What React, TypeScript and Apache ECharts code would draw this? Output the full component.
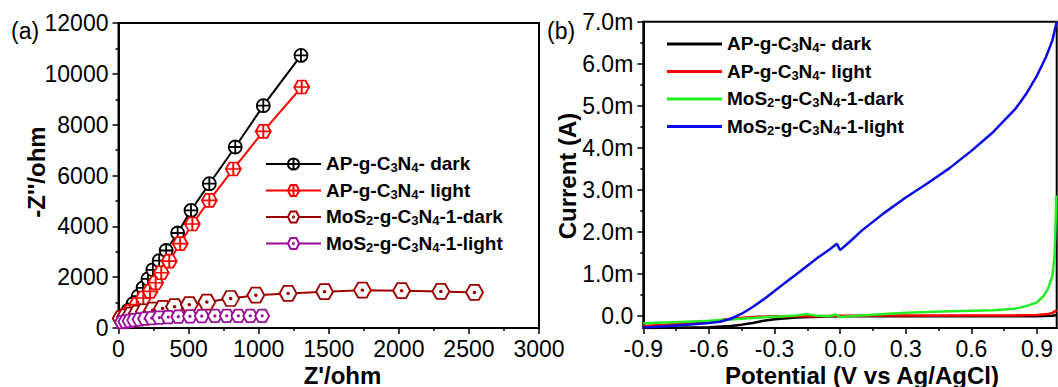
import React, { useEffect, useRef } from 'react';
import * as echarts from 'echarts';

const FONT = "'Liberation Sans', Arial, sans-serif";

// ---------- Panel (a): Nyquist plots, [Z' (ohm), -Z'' (ohm)] ----------
const seriesNames = [
  'AP-g-C3N4- dark',
  'AP-g-C3N4- light',
  'MoS2-g-C3N4-1-dark',
  'MoS2-g-C3N4-1-light',
];

const apDarkEIS = [
  [12, 380], [40, 500], [70, 700], [105, 960], [140, 1250], [175, 1580], [210, 1930],
  [245, 2290], [290, 2650], [340, 3050], [422, 3737], [517, 4627], [648, 5677],
  [833, 7121], [1033, 8746], [1302, 10725],
];
const apLightEIS = [
  [15, 380], [46, 484], [82, 653], [130, 917], [177, 1180], [225, 1440], [265, 1780],
  [305, 2175], [362, 2630], [440, 3320], [527, 4091], [648, 5020], [819, 6255],
  [1033, 7735], [1307, 9481],
];
const mosDarkEIS = [
  [20, 380], [50, 440], [90, 510], [135, 580], [185, 640], [245, 700], [315, 770],
  [400, 840], [505, 920], [630, 1020], [800, 1160], [980, 1290], [1210, 1360],
  [1470, 1430], [1740, 1490], [2020, 1470], [2300, 1440], [2540, 1400],
];
const mosLightEIS = [
  [25, 230], [50, 250], [80, 280], [112, 310], [150, 340], [190, 365], [237, 390],
  [291, 410], [355, 430], [427, 445], [510, 460], [594, 470], [688, 475], [772, 480],
  [855, 480], [940, 480], [1025, 480],
];

// ---------- Panel (b): LSV curves, [potential (V), current (mA)] ----------
const apDarkLSV = [
  [-0.9, -0.28], [-0.8, -0.28], [-0.7, -0.27], [-0.6, -0.26], [-0.5, -0.23], [-0.45, -0.2],
  [-0.4, -0.16], [-0.35, -0.11], [-0.3, -0.07], [-0.2, -0.03], [-0.1, -0.01], [0.0, 0.0],
  [0.3, 0.0], [0.6, 0.0], [0.9, 0.0], [0.97, 0.01], [0.99, 0.03],
];
const apLightLSV = [
  [-0.9, -0.23], [-0.8, -0.2], [-0.7, -0.17], [-0.6, -0.13], [-0.5, -0.06], [-0.4, -0.02],
  [-0.3, 0.0], [-0.2, 0.0], [-0.1, 0.0], [0.0, 0.01], [0.2, 0.02], [0.4, 0.02], [0.6, 0.02],
  [0.8, 0.02], [0.9, 0.03], [0.95, 0.05], [0.97, 0.08], [0.99, 0.14],
];
const mosDarkLSV = [
  [-0.9, -0.17], [-0.8, -0.15], [-0.7, -0.13], [-0.6, -0.11], [-0.5, -0.08], [-0.4, -0.04],
  [-0.3, -0.01], [-0.2, 0.02], [-0.15, 0.05], [-0.12, 0.02], [-0.05, 0.0], [-0.02, 0.04],
  [0.0, -0.02], [0.1, 0.02], [0.2, 0.05], [0.3, 0.08], [0.4, 0.1], [0.5, 0.12], [0.6, 0.13],
  [0.7, 0.14], [0.8, 0.18], [0.85, 0.24], [0.9, 0.33], [0.93, 0.48], [0.95, 0.65],
  [0.97, 0.95], [0.98, 1.4], [0.985, 2.2], [0.988, 2.87],
];
const mosLightLSV = [
  [-0.9, -0.27], [-0.8, -0.24], [-0.7, -0.2], [-0.6, -0.16], [-0.55, -0.13], [-0.5, -0.06],
  [-0.45, 0.06], [-0.4, 0.22], [-0.35, 0.4], [-0.3, 0.6], [-0.25, 0.8], [-0.2, 1.0],
  [-0.15, 1.2], [-0.1, 1.4], [-0.05, 1.58], [-0.015, 1.72], [0.0, 1.57], [0.05, 1.8],
  [0.1, 2.04], [0.2, 2.45], [0.3, 2.82], [0.4, 3.16], [0.5, 3.52], [0.6, 3.93], [0.7, 4.38],
  [0.8, 4.92], [0.85, 5.28], [0.9, 5.72], [0.94, 6.15], [0.97, 6.55], [0.99, 7.0],
];

// tick values
const xTicksB = [-0.9, -0.6, -0.3, 0, 0.3, 0.6, 0.9];
const xMinorB = [-0.75, -0.45, -0.15, 0.15, 0.45, 0.75];
const yTicksB = [0, 1, 2, 3, 4, 5, 6, 7];
const yMinorB = [0.5, 1.5, 2.5, 3.5, 4.5, 5.5, 6.5];

const colorsA = ['#000000', '#ff0000', '#9b0000', '#9a0d9a'];
const colorsB = ['#000000', '#ff0000', '#22ee22', '#0a0ae6'];

const SYM_CIRCLE_PLUS =
  'path://M0,-10 A10,10 0 1,1 0,10 A10,10 0 1,1 0,-10 Z M-10,0 L10,0 M0,-10 L0,10';
const SYM_HEX_PLUS =
  'path://M-10,0 L-5,-8.66 L5,-8.66 L10,0 L5,8.66 L-5,8.66 Z M-10,0 L10,0 M0,-8.66 L0,8.66';
const SYM_HEX_DOT =
  'path://M-10,0 L-5,-8.66 L5,-8.66 L10,0 L5,8.66 L-5,8.66 Z M0,-1 A1,1 0 1,1 0,1 A1,1 0 1,1 0,-1 Z';

const toRich = (name: string) =>
  '{m|' + name.replace(/([A-Z])(\d)/g, '$1}{s|$2}{m|') + '}';

const richStyles = {
  m: {
    fontSize: 19, fontWeight: 'bold', fontFamily: FONT, color: '#000',
    lineHeight: 20, verticalAlign: 'top', padding: [0, 0, 6, 0],
  },
  s: {
    fontSize: 13, fontWeight: 'bold', fontFamily: FONT, color: '#000',
    lineHeight: 13, verticalAlign: 'bottom',
  },
};

export default function App() {
  const ref = useRef<HTMLDivElement>(null);
  useEffect(() => {
    if (!ref.current) return;
    const chart = echarts.init(ref.current, undefined, { renderer: 'svg' });
    const axisLabel = { color: '#000', fontSize: 23, fontFamily: FONT };
    const axisLine = { show: true, onZero: false, lineStyle: { color: '#000', width: 2 } };
    const tick = { show: true, length: 6, lineStyle: { color: '#000', width: 1.5 } };
    const minor = { show: true, splitNumber: 2, length: 3, lineStyle: { color: '#000', width: 1.5 } };
    const hiddenLine = { show: false, onZero: false };

    const symbolsA = [SYM_CIRCLE_PLUS, SYM_HEX_PLUS, SYM_HEX_DOT, SYM_HEX_DOT];
    const sizesA = [[13, 13], [15, 13], [17, 15], [14, 12.5]];
    const dataA = [apDarkEIS, apLightEIS, mosDarkEIS, mosLightEIS];
    const dataB = [apDarkLSV, apLightLSV, mosDarkLSV, mosLightLSV];

    const seriesA = dataA.map((d, i) => ({
      name: 'a:' + seriesNames[i],
      type: 'line',
      xAxisIndex: 0,
      yAxisIndex: 0,
      data: d,
      symbol: symbolsA[i],
      symbolSize: sizesA[i],
      showAllSymbol: true,
      lineStyle: { color: colorsA[i], width: 2 },
      itemStyle: { color: '#ffffff', borderColor: colorsA[i], borderWidth: 1.8 },
      z: 2 + i,
    }));
    const seriesB = dataB.map((d, i) => ({
      name: 'b:' + seriesNames[i],
      type: 'line',
      xAxisIndex: 1,
      yAxisIndex: 1,
      data: d,
      symbol: 'none',
      showSymbol: false,
      lineStyle: { color: colorsB[i], width: 2.5 },
      itemStyle: { color: colorsB[i] },
      z: 2 + i,
    }));

    chart.setOption({
      animation: false,
      backgroundColor: '#ffffff',
      grid: [
        { left: 118.5, top: 23, width: 420.5, height: 305, show: true, borderColor: '#000', borderWidth: 2, containLabel: false },
        { left: 643.3, top: 21.7, width: 413.4, height: 306.3, show: true, borderColor: '#000', borderWidth: 2, containLabel: false },
      ],
      xAxis: [
        {
          gridIndex: 0, type: 'value', min: 0, max: 3000, interval: 500,
          axisLine, axisTick: tick, minorTick: minor,
          splitLine: { show: false }, minorSplitLine: { show: false },
          axisLabel: { ...axisLabel, margin: 9, formatter: (v: number) => String(v) },
        },
        {
          gridIndex: 1, type: 'value', min: -0.9, max: 0.99,
          axisLine, axisTick: { ...tick, customValues: xTicksB },
          splitLine: { show: false },
          axisLabel: { ...axisLabel, margin: 9, customValues: xTicksB, formatter: (v: number) => v.toFixed(1) },
        },
        {
          gridIndex: 1, type: 'value', min: -0.9, max: 0.99, position: 'bottom',
          axisLine: hiddenLine, splitLine: { show: false },
          axisTick: { show: true, length: 3, lineStyle: { color: '#000', width: 1.5 }, customValues: xMinorB },
          axisLabel: { show: false },
        },
      ],
      yAxis: [
        {
          gridIndex: 0, type: 'value', min: 0, max: 12000, interval: 2000,
          axisLine, axisTick: tick, minorTick: minor,
          splitLine: { show: false }, minorSplitLine: { show: false },
          axisLabel: { ...axisLabel, margin: 10, formatter: (v: number) => String(v) },
        },
        {
          gridIndex: 1, type: 'value', min: -0.28, max: 7, position: 'left',
          axisLine, axisTick: { ...tick, customValues: yTicksB },
          splitLine: { show: false },
          axisLabel: {
            ...axisLabel, margin: 10, customValues: yTicksB,
            formatter: (v: number) => (v === 0 ? '0.0' : v.toFixed(1) + 'm'),
          },
        },
        {
          gridIndex: 1, type: 'value', min: -0.28, max: 7, position: 'left', offset: 0,
          axisLine: hiddenLine, splitLine: { show: false },
          axisTick: { show: true, length: 3, lineStyle: { color: '#000', width: 1.5 }, customValues: yMinorB },
          axisLabel: { show: false },
        },
      ],
      legend: [
        {
          data: seriesNames.map((n) => 'a:' + n),
          orient: 'vertical', left: 265, top: 154, padding: 0,
          itemWidth: 55, itemHeight: 14, itemGap: 1.5,
          formatter: (n: string) => toRich(n.slice(2)),
          textStyle: { rich: richStyles },
          selectedMode: false,
        },
        {
          data: seriesNames.map((n) => 'b:' + n),
          orient: 'vertical', left: 667, top: 34, padding: 0,
          icon: 'rect',
          itemWidth: 55, itemHeight: 3, itemGap: 2.5,
          formatter: (n: string) => toRich(n.slice(2)),
          textStyle: { rich: richStyles },
          selectedMode: false,
        },
      ],
      graphic: [
        { type: 'text', x: 11, y: 19, style: { text: '(a)', font: `23px ${FONT}`, fill: '#000', textVerticalAlign: 'top' } },
        { type: 'text', x: 547, y: 19, style: { text: '(b)', font: `23px ${FONT}`, fill: '#000', textVerticalAlign: 'top' } },
        { type: 'text', x: 342.5, y: 375, style: { text: "Z'/ohm", font: `bold 24px ${FONT}`, fill: '#000', textAlign: 'center', textVerticalAlign: 'middle' } },
        { type: 'text', x: 36, y: 172, rotation: Math.PI / 2, style: { text: "-Z''/ohm", font: `bold 24px ${FONT}`, fill: '#000', textAlign: 'center', textVerticalAlign: 'middle' } },
        { type: 'text', x: 567, y: 176, rotation: Math.PI / 2, style: { text: 'Current (A)', font: `bold 24px ${FONT}`, fill: '#000', textAlign: 'center', textVerticalAlign: 'middle' } },
        { type: 'text', x: 862, y: 375, style: { text: 'Potential (V vs Ag/AgCl)', font: `bold 24px ${FONT}`, fill: '#000', textAlign: 'center', textVerticalAlign: 'middle' } },
      ],
      series: [...seriesA, ...seriesB],
    });
    return () => chart.dispose();
  }, []);
  return <div ref={ref} style={{ width: 1058, height: 387, position: 'absolute', left: 0, top: 0 }} />;
}
